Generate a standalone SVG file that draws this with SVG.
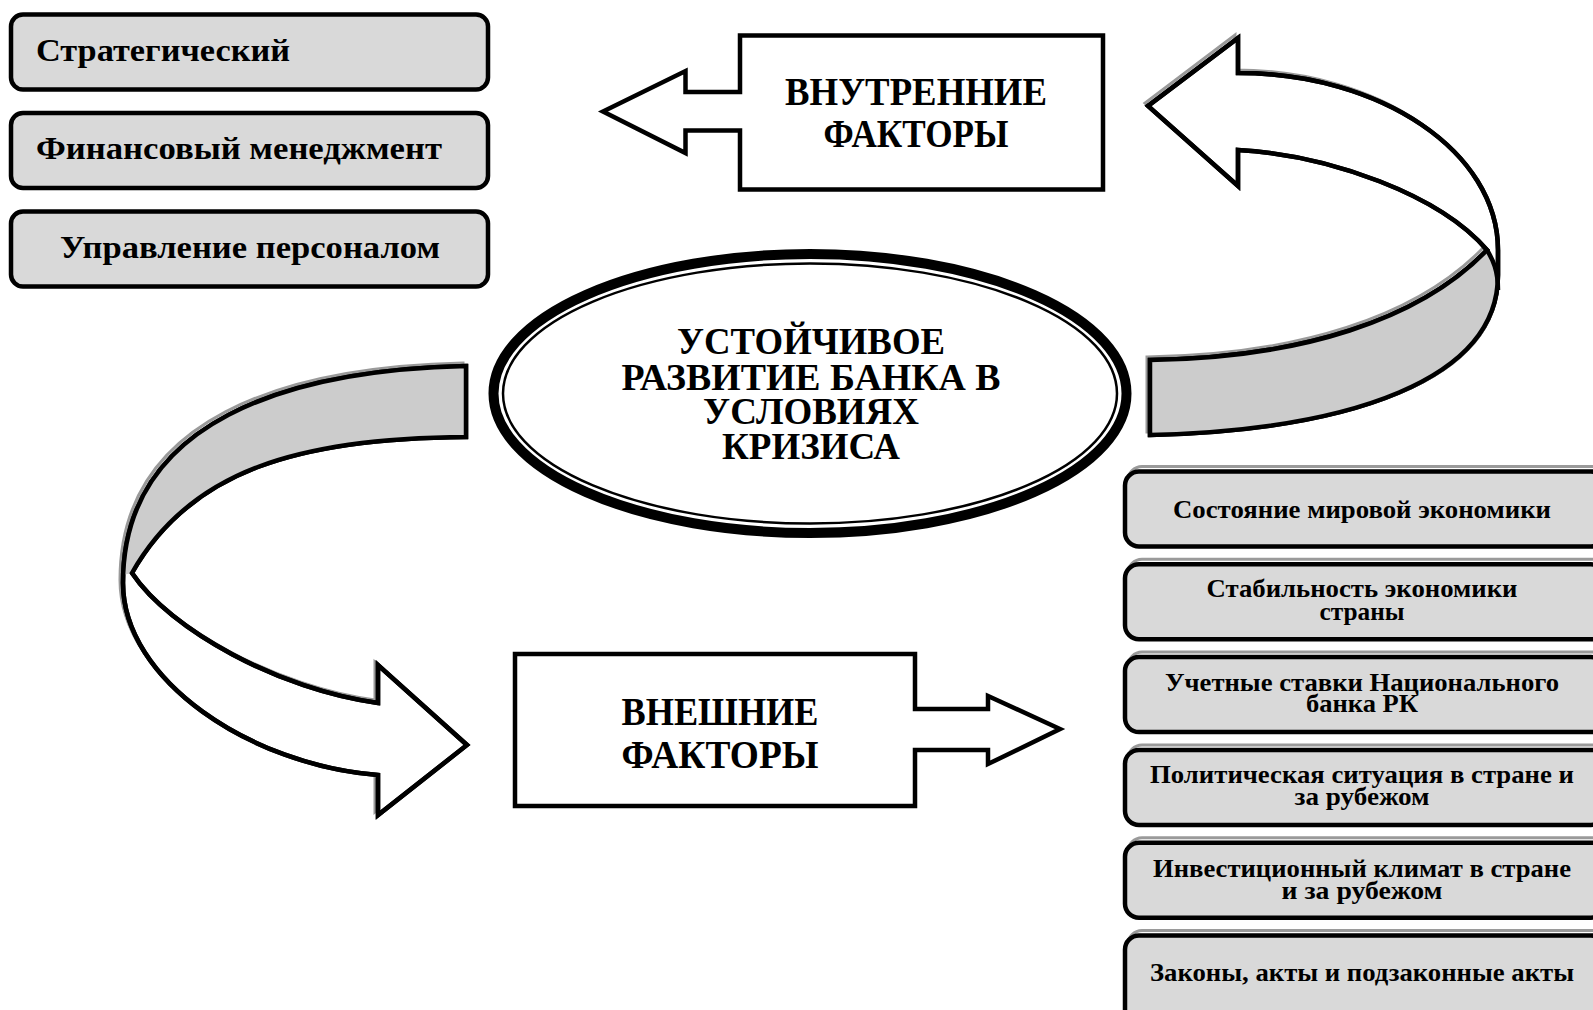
<svg xmlns="http://www.w3.org/2000/svg" width="1593" height="1010" viewBox="0 0 1593 1010">
  <style>
    .t { font-family: "Liberation Serif", "Times New Roman", serif; font-weight: bold; fill: #000; }
    .box { fill: #d9d9d9; stroke: #000; stroke-width: 4.5; }
    .sh { fill: none; stroke: #9a9a9a; stroke-width: 3; }
    .ol { fill: #fff; stroke: #000; stroke-width: 4.5; stroke-linejoin: miter; }
    .band { fill: #cccccc; stroke: none; }
    .ln { fill: none; stroke: #000; stroke-width: 4.5; }
  </style>
  <rect width="1593" height="1010" fill="#fff"/>

  <!-- internal factors: left column -->
  <g id="strategic">
    <rect class="box" x="11" y="14.5" width="477" height="75" rx="12"/>
    <text class="t" x="36" y="61" font-size="32" textLength="254" lengthAdjust="spacingAndGlyphs">Стратегический</text>
  </g>
  <g id="finance">
    <rect class="box" x="11" y="113" width="477" height="75" rx="12"/>
    <text class="t" x="36" y="159" font-size="32" textLength="406" lengthAdjust="spacingAndGlyphs">Финансовый менеджмент</text>
  </g>
  <g id="personnel">
    <rect class="box" x="11" y="211.5" width="477" height="75" rx="12"/>
    <text class="t" x="250" y="258" font-size="32" text-anchor="middle" textLength="380" lengthAdjust="spacingAndGlyphs">Управление персоналом</text>
  </g>

  <!-- internal factors callout -->
  <g id="internal">
    <path class="ol" d="M740,92 V35.5 H1103 V189.5 H740 V130.5 H685.5 V153 L603,111.5 L685.5,71 V92 Z"/>
    <text class="t" x="916" y="105" font-size="40" text-anchor="middle" textLength="262" lengthAdjust="spacingAndGlyphs">ВНУТРЕННИЕ</text>
    <text class="t" x="916" y="147" font-size="40" text-anchor="middle" textLength="185" lengthAdjust="spacingAndGlyphs">ФАКТОРЫ</text>
  </g>

  <!-- centre -->
  <g id="center">
    <ellipse cx="810" cy="393.5" rx="316.5" ry="139.5" fill="#fff" stroke="#000" stroke-width="10"/>
    <ellipse cx="810" cy="393.5" rx="307" ry="130" fill="none" stroke="#000" stroke-width="2.5"/>
    <text class="t" x="811" y="354" font-size="38" text-anchor="middle" textLength="268" lengthAdjust="spacingAndGlyphs">УСТОЙЧИВОЕ</text>
    <text class="t" x="811" y="390" font-size="38" text-anchor="middle" textLength="379" lengthAdjust="spacingAndGlyphs">РАЗВИТИЕ БАНКА В</text>
    <text class="t" x="811" y="424" font-size="38" text-anchor="middle" textLength="216" lengthAdjust="spacingAndGlyphs">УСЛОВИЯХ</text>
    <text class="t" x="811" y="459" font-size="38" text-anchor="middle" textLength="178" lengthAdjust="spacingAndGlyphs">КРИЗИСА</text>
  </g>

  <!-- external factors callout -->
  <g id="external">
    <path class="ol" d="M915,709 V654 H515 V806 H915 V750 H988 V764 L1060,729 L988,696 V709 Z"/>
    <text class="t" x="720" y="725" font-size="40" text-anchor="middle" textLength="197" lengthAdjust="spacingAndGlyphs">ВНЕШНИЕ</text>
    <text class="t" x="720" y="768" font-size="40" text-anchor="middle" textLength="197" lengthAdjust="spacingAndGlyphs">ФАКТОРЫ</text>
  </g>

  <!-- curved ribbon arrows -->
  <g id="connectors">
    <!-- right ribbon: from the centre up to internal factors -->
    <g id="ribbon-right">
      <path class="sh" transform="translate(-3,-3)" d="M1150,435 C1350,430 1498,380 1498,275 L1498,250 C1498,152 1381,73 1238,73 V38 L1148,106 L1238,186 V150 C1330,155 1440,195 1487,250 C1420,320 1300,358 1150,360 Z"/>
      <path class="ol" stroke="none" d="M1150,435 C1350,430 1498,380 1498,275 L1498,250 C1498,152 1381,73 1238,73 V38 L1148,106 L1238,186 V150 C1330,155 1440,195 1487,250 C1420,320 1300,358 1150,360 Z"/>
      <path class="band" d="M1150,360 C1300,358 1420,320 1487,250 C1493,260 1498,270 1498,285 C1495,385 1345,430 1150,435 Z"/>
      <path class="ln" d="M1487,250 C1493,260 1498,270 1498,290"/>
      <path class="ol" style="fill:none" d="M1150,435 C1350,430 1498,380 1498,275 L1498,250 C1498,152 1381,73 1238,73 V38 L1148,106 L1238,186 V150 C1330,155 1440,195 1487,250 C1420,320 1300,358 1150,360 Z"/>
    </g>
    <!-- left ribbon: from the centre down to external factors -->
    <g id="ribbon-left">
      <path class="sh" transform="translate(-3,-3)" d="M466,366 C290,370 123,420 123,583 C123,680 250,765 378,775 V815 L467,745 L378,665 V703 C280,690 170,630 132,573 C190,470 300,438 466,437 Z"/>
      <path class="ol" stroke="none" d="M466,366 C290,370 123,420 123,583 C123,680 250,765 378,775 V815 L467,745 L378,665 V703 C280,690 170,630 132,573 C190,470 300,438 466,437 Z"/>
      <path class="band" d="M466,366 C290,370 123,420 123,575 L132,573 C190,470 300,438 466,437 Z"/>
      <path class="ol" style="fill:none" d="M466,366 C290,370 123,420 123,583 C123,680 250,765 378,775 V815 L467,745 L378,665 V703 C280,690 170,630 132,573 C190,470 300,438 466,437 Z"/>
    </g>
  </g>

  <!-- external factors: right column -->
  <g id="world-economy">
    <rect class="sh" x="1128" y="466.5" width="480" height="75" rx="14"/>
    <rect class="box" x="1125" y="471.5" width="480" height="75" rx="14"/>
    <text class="t" x="1362" y="518" font-size="26" text-anchor="middle" textLength="378" lengthAdjust="spacingAndGlyphs">Состояние мировой экономики</text>
  </g>
  <g id="national-economy">
    <rect class="sh" x="1128" y="559.3" width="480" height="75" rx="14"/>
    <rect class="box" x="1125" y="564.3" width="480" height="75" rx="14"/>
    <text class="t" x="1362" y="597" font-size="25" text-anchor="middle" textLength="311" lengthAdjust="spacingAndGlyphs">Стабильность экономики</text>
    <text class="t" x="1362" y="620" font-size="25" text-anchor="middle" textLength="85" lengthAdjust="spacingAndGlyphs">страны</text>
  </g>
  <g id="discount-rates">
    <rect class="sh" x="1128" y="652.1" width="480" height="75" rx="14"/>
    <rect class="box" x="1125" y="657.1" width="480" height="75" rx="14"/>
    <text class="t" x="1362" y="691" font-size="25" text-anchor="middle" textLength="394" lengthAdjust="spacingAndGlyphs">Учетные ставки Национального</text>
    <text class="t" x="1362" y="712" font-size="25" text-anchor="middle" textLength="112" lengthAdjust="spacingAndGlyphs">банка РК</text>
  </g>
  <g id="political">
    <rect class="sh" x="1128" y="744.9" width="480" height="75" rx="14"/>
    <rect class="box" x="1125" y="749.9" width="480" height="75" rx="14"/>
    <text class="t" x="1362" y="783" font-size="25" text-anchor="middle" textLength="424" lengthAdjust="spacingAndGlyphs">Политическая ситуация в стране и</text>
    <text class="t" x="1362" y="805" font-size="25" text-anchor="middle" textLength="135" lengthAdjust="spacingAndGlyphs">за рубежом</text>
  </g>
  <g id="investment">
    <rect class="sh" x="1128" y="837.7" width="480" height="75" rx="14"/>
    <rect class="box" x="1125" y="842.7" width="480" height="75" rx="14"/>
    <text class="t" x="1362" y="877" font-size="25" text-anchor="middle" textLength="418" lengthAdjust="spacingAndGlyphs">Инвестиционный климат в стране</text>
    <text class="t" x="1362" y="899" font-size="25" text-anchor="middle" textLength="161" lengthAdjust="spacingAndGlyphs">и за рубежом</text>
  </g>
  <g id="laws">
    <rect class="sh" x="1128" y="930.5" width="480" height="90" rx="14"/>
    <rect class="box" x="1125" y="935.5" width="480" height="90" rx="14"/>
    <text class="t" x="1362" y="981" font-size="26" text-anchor="middle" textLength="424" lengthAdjust="spacingAndGlyphs">Законы, акты и подзаконные акты</text>
  </g>
</svg>
